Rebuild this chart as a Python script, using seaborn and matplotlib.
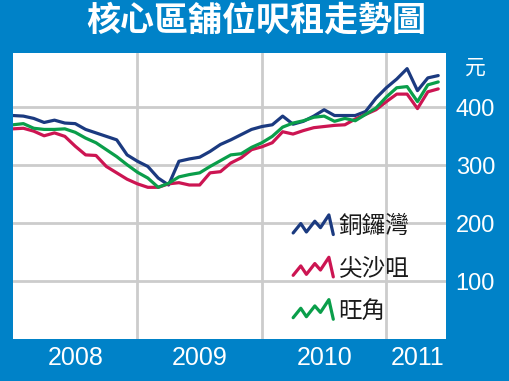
import numpy as np
import pandas as pd
import matplotlib
matplotlib.use("Agg")
import matplotlib.pyplot as plt
import seaborn as sns
from matplotlib.lines import Line2D
from matplotlib.legend_handler import HandlerBase

# Monthly rent per sq ft, Jan 2008 - Jun 2011
months = list(range(42))
causeway_bay = [386, 385, 381, 374, 378, 373, 372, 362, 356, 350, 344, 318,
                307, 298, 278, 266, 307, 311, 314, 324, 336, 344, 353, 362,
                367, 370, 385, 371, 376, 385, 396, 386, 386, 386, 393, 416,
                434, 449, 467, 429, 451, 455]
tsim_sha_tsui = [363, 364, 359, 351, 356, 350, 333, 318, 317, 298, 287, 276,
                 268, 262, 262, 268, 270, 266, 266, 287, 289, 304, 313, 327,
                 332, 339, 358, 354, 360, 365, 367, 369, 370, 380, 388, 396,
                 410, 423, 423, 398, 427, 432]
mong_kok = [370, 372, 364, 362, 362, 363, 357, 347, 339, 327, 315, 301,
            288, 278, 262, 269, 280, 284, 287, 298, 308, 318, 320, 331,
            339, 350, 366, 373, 377, 383, 385, 376, 381, 377, 388, 399,
            418, 434, 436, 410, 439, 444]
districts = ["銅鑼灣", "尖沙咀", "旺角"]
year_labels = ["2008", "2009", "2010", "2011"]
year_pos = [6, 18, 30, 39]
year_edges = [12, 24, 36]
y_ticks = [100, 200, 300, 400]

df = pd.DataFrame({
    "month": months * 3,
    "rent": causeway_bay + tsim_sha_tsui + mong_kok,
    "district": [districts[0]] * 42 + [districts[1]] * 42 + [districts[2]] * 42,
})

BG = "#0082C8"
palette = {"銅鑼灣": "#1B3A80", "尖沙咀": "#CC1552", "旺角": "#0A9E4A"}
cjk = ["Noto Sans CJK TC", "DejaVu Sans"]

sns.set_style("white")
fig = plt.figure(figsize=(5.1, 3.81), dpi=100, facecolor=BG)
ax = fig.add_axes([13 / 510, 1 - 339 / 381, 433 / 510, 286 / 381])
ax.set_facecolor("white")

sns.lineplot(data=df, x="month", y="rent", hue="district", palette=palette,
             linewidth=2.3, legend=False, ax=ax)

ax.set_xlim(0, 41.75)
ax.set_ylim(0, 494)
ax.set_xticks(year_pos)
ax.set_xticklabels(year_labels)
ax.set_xticks(year_edges, minor=True)
ax.set_yticks(y_ticks)
ax.set_yticklabels([str(v) for v in y_ticks])
ax.yaxis.tick_right()
ax.grid(False)
ax.grid(axis="y", which="major", color="#CCCCCC", linewidth=2)
ax.grid(axis="x", which="minor", color="#CCCCCC", linewidth=2)
ax.set_axisbelow(True)
ax.tick_params(which="both", length=0)
ax.tick_params(axis="x", pad=5, labelsize=18, labelcolor="white")
ax.tick_params(axis="y", pad=7, labelsize=17, labelcolor="white")
for lab in ax.get_xticklabels() + ax.get_yticklabels():
    lab.set_family("Liberation Sans")
ax.set_xlabel("")
ax.set_ylabel("")
for s in ax.spines.values():
    s.set_visible(False)


# zigzag legend icon
class ZigZag(HandlerBase):
    def create_artists(self, legend, orig_handle, xdescent, ydescent,
                       width, height, fontsize, trans):
        xs = np.array([0, .19, .33, .54, .68, .89, 1.0]) * width - xdescent
        ys = np.array([.08, .56, .13, .68, .35, 1.0, 0.0]) * height - ydescent
        line = Line2D(xs, ys, color=orig_handle.get_color(),
                      linewidth=orig_handle.get_linewidth(), transform=trans)
        return [line]


handles = [Line2D([], [], color=palette[d], linewidth=2.3) for d in districts]
leg = ax.legend(handles, districts, handler_map={Line2D: ZigZag()},
                loc="upper left", bbox_to_anchor=(0.647, 0.434), frameon=False,
                borderpad=0, borderaxespad=0, handlelength=1.7,
                handleheight=0.9, handletextpad=0.22, labelspacing=0.82,
                prop={"family": cjk, "size": 17})
for t in leg.get_texts():
    t.set_color("#1A1A1A")

fig.text(256 / 510, 1 - 20 / 381, "核心區舖位呎租走勢圖", ha="center", va="center",
         fontsize=24.5, fontweight="heavy", color="white", family=cjk)
fig.text(475 / 510, 1 - 68 / 381, "元", ha="center", va="center",
         fontsize=15, color="white", family=cjk)

fig.savefig("out.png", dpi=100, facecolor=BG)
